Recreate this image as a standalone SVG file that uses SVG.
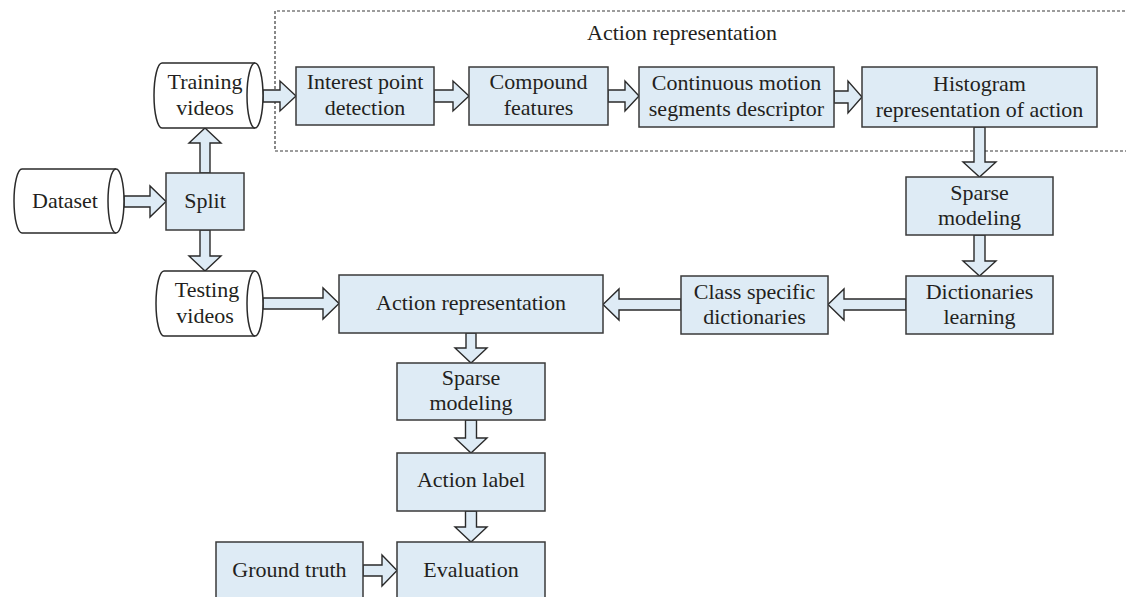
<svg xmlns="http://www.w3.org/2000/svg" width="1126" height="597" viewBox="0 0 1126 597">
<style>
.box{fill:#deebf5;stroke:#3a3a3a;stroke-width:1.5}
.cyl{fill:#ffffff;stroke:#2a2a2a;stroke-width:1.5}
.arr{fill:#deebf5;stroke:#2a2a2a;stroke-width:1.4;stroke-linejoin:miter}
.dash{fill:none;stroke:#3a3a3a;stroke-width:1.2;stroke-dasharray:3 2}
text{font-family:"Liberation Serif","Times New Roman",serif;font-size:22px;fill:#231f20;text-anchor:middle}
</style>
<rect x="0" y="0" width="1126" height="597" fill="#ffffff"/>
<g id="group-action-representation">
<path class="dash" d="M1130 11 H275 V151 H1130"/>
<text x="682" y="40">Action representation</text>
</g>
<g id="connectors">
<path class="arr" d="M263 90 L280 90 L280 81 L296 96 L280 111 L280 102 L263 102 Z"/>
<path class="arr" d="M434 90 L453 90 L453 81 L469 96 L453 111 L453 102 L434 102 Z"/>
<path class="arr" d="M608 90 L625 90 L625 81 L639 96 L625 111 L625 102 L608 102 Z"/>
<path class="arr" d="M834 91 L848 91 L848 81 L862 97 L848 113 L848 103 L834 103 Z"/>
<path class="arr" d="M974 127 L974 162 L963 162 L979.5 177 L996 162 L985 162 L985 127 Z"/>
<path class="arr" d="M974 235 L974 261 L963 261 L979.5 276 L996 261 L985 261 L985 235 Z"/>
<path class="arr" d="M906 299 L844 299 L844 289 L828 304.5 L844 320 L844 310 L906 310 Z"/>
<path class="arr" d="M681 299 L619 299 L619 289 L603 304.5 L619 320 L619 310 L681 310 Z"/>
<path class="arr" d="M263 298 L323 298 L323 288 L339 303.5 L323 319 L323 309 L263 309 Z"/>
<path class="arr" d="M124 196 L150 196 L150 186 L166 201.5 L150 217 L150 207 L124 207 Z"/>
<path class="arr" d="M200 173 L200 143 L189 143 L205 128 L221 143 L210 143 L210 173 Z"/>
<path class="arr" d="M200 230 L200 256 L189 256 L205 271 L221 256 L210 256 L210 230 Z"/>
<path class="arr" d="M466 333 L466 348 L455 348 L471 363 L487 348 L476 348 L476 333 Z"/>
<path class="arr" d="M465.5 420 L465.5 438 L455 438 L471 453 L487 438 L476.5 438 L476.5 420 Z"/>
<path class="arr" d="M465.5 511 L465.5 527 L455 527 L471 542 L487 527 L476.5 527 L476.5 511 Z"/>
<path class="arr" d="M363 565 L382 565 L382 555 L397 570.5 L382 586 L382 576 L363 576 Z"/>
</g>
<g id="node-dataset">
<path class="cyl" d="M22 169 L116 169 A8 32 0 0 1 116 233 L22 233 A8 32 0 0 1 22 169 Z"/>
<path class="cyl" fill="none" d="M116 169 A8 32 0 0 0 116 233"/>
<text x="65" y="208">Dataset</text>
</g>
<g id="node-split">
<rect class="box" x="166" y="173" width="78" height="57"/>
<text x="205" y="208">Split</text>
</g>
<g id="node-training-videos">
<path class="cyl" d="M162 63 L255 63 A8 32.5 0 0 1 255 128 L162 128 A8 32.5 0 0 1 162 63 Z"/>
<path class="cyl" d="M255 63 A8 32.5 0 0 0 255 128"/>
<text x="205" y="89">Training</text>
<text x="205" y="115">videos</text>
</g>
<g id="node-testing-videos">
<path class="cyl" d="M164 271 L255 271 A8 32.5 0 0 1 255 336 L164 336 A8 32.5 0 0 1 164 271 Z"/>
<path class="cyl" d="M255 271 A8 32.5 0 0 0 255 336"/>
<text x="207" y="297">Testing</text>
<text x="205" y="323">videos</text>
</g>
<g id="node-interest-point">
<rect class="box" x="296" y="67" width="138" height="58"/>
<text x="365" y="89">Interest point</text>
<text x="365" y="115">detection</text>
</g>
<g id="node-compound">
<rect class="box" x="469" y="67" width="139" height="58"/>
<text x="538.5" y="89">Compound</text>
<text x="538.5" y="115">features</text>
</g>
<g id="node-continuous">
<rect class="box" x="639" y="67" width="195" height="60"/>
<text x="736.5" y="90">Continuous motion</text>
<text x="736.5" y="116">segments descriptor</text>
</g>
<g id="node-histogram">
<rect class="box" x="862" y="67" width="235" height="60"/>
<text x="979.5" y="91">Histogram</text>
<text x="979.5" y="117">representation of action</text>
</g>
<g id="node-sparse-modeling-1">
<rect class="box" x="906" y="177" width="147" height="58"/>
<text x="979.5" y="200">Sparse</text>
<text x="979.5" y="225">modeling</text>
</g>
<g id="node-dictionaries-learning">
<rect class="box" x="906" y="276" width="147" height="58"/>
<text x="979.5" y="299">Dictionaries</text>
<text x="979.5" y="324">learning</text>
</g>
<g id="node-class-specific">
<rect class="box" x="681" y="276" width="147" height="58"/>
<text x="754.5" y="299">Class specific</text>
<text x="754.5" y="324">dictionaries</text>
</g>
<g id="node-action-representation">
<rect class="box" x="339" y="275" width="264" height="58"/>
<text x="471" y="310">Action representation</text>
</g>
<g id="node-sparse-modeling-2">
<rect class="box" x="397" y="363" width="148" height="57"/>
<text x="471" y="385">Sparse</text>
<text x="471" y="410">modeling</text>
</g>
<g id="node-action-label">
<rect class="box" x="397" y="453" width="148" height="58"/>
<text x="471" y="487">Action label</text>
</g>
<g id="node-ground-truth">
<rect class="box" x="216" y="542" width="147" height="62"/>
<text x="289.5" y="577">Ground truth</text>
</g>
<g id="node-evaluation">
<rect class="box" x="397" y="542" width="148" height="62"/>
<text x="471" y="577">Evaluation</text>
</g>
</svg>
